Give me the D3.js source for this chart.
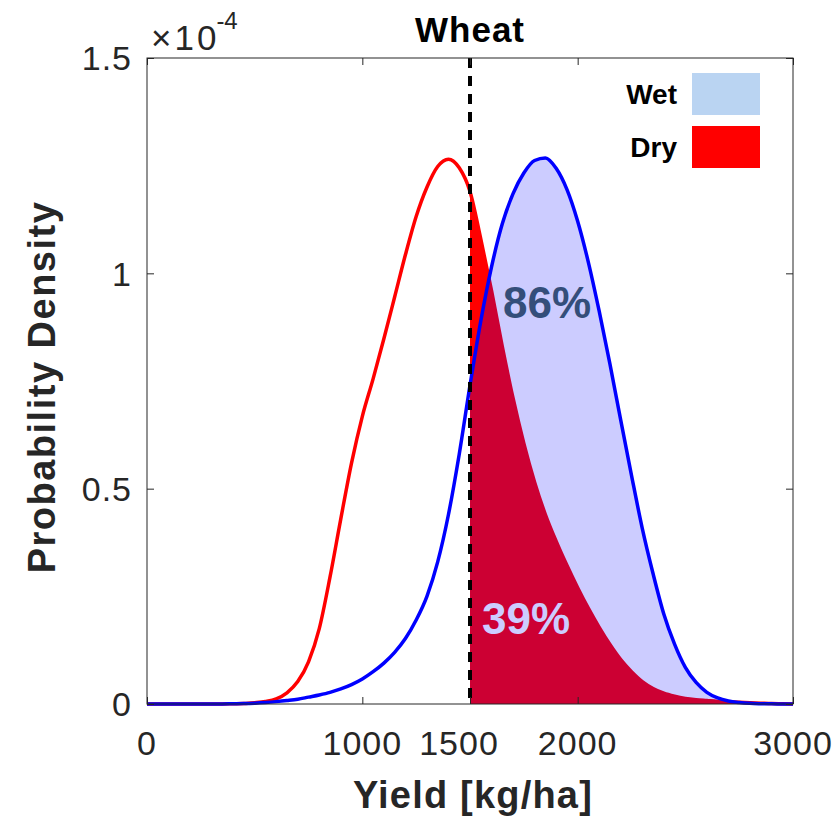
<!DOCTYPE html>
<html>
<head>
<meta charset="utf-8">
<script src="https://cdn.jsdelivr.net/npm/d3@7"></script>
<style>
  body { margin: 0; background: #fff; }
  text { font-family: "Liberation Sans", Arial, Helvetica, sans-serif; }
</style>
</head>
<body>
<div id="chart"></div>
<script>
// yield grid (kg/ha)
var yieldKgHa = [0, 50, 100, 150, 200, 250, 300, 350, 400, 450, 500, 550, 600, 650, 700, 750,
  800, 850, 900, 950, 1000, 1050, 1100, 1150, 1200, 1250, 1300, 1350, 1400, 1450, 1500,
  1550, 1600, 1650, 1700, 1750, 1800, 1850, 1900, 1950, 2000, 2050, 2100, 2150, 2200,
  2250, 2300, 2350, 2400, 2450, 2500, 2550, 2600, 2650, 2700, 2750, 2800, 2850, 2900,
  2950, 3000];

// probability density, in units of 1e-4
var dryDensity = [0, 0, 0, 0, 0, 0, 0, 0, 0.0005, 0.001, 0.003, 0.006, 0.012, 0.026, 0.052, 0.098,
  0.175, 0.295, 0.43, 0.56, 0.668, 0.755, 0.848, 0.945, 1.043, 1.132, 1.20, 1.248, 1.265, 1.245, 1.19,
  1.08, 0.96, 0.83, 0.71, 0.605, 0.515, 0.44, 0.378, 0.322, 0.27, 0.222, 0.178, 0.138, 0.103,
  0.075, 0.052, 0.036, 0.025, 0.018, 0.013, 0.01, 0.008, 0.006, 0.005, 0.004, 0.003, 0.002, 0.001,
  0.0005, 0];

var wetDensity = [0, 0, 0, 0, 0, 0, 0, 0, 0.0005, 0.001, 0.002, 0.0035, 0.0055, 0.008, 0.011, 0.016,
  0.021, 0.027, 0.035, 0.045, 0.058, 0.075, 0.095, 0.12, 0.152, 0.195, 0.25, 0.33, 0.44, 0.58, 0.74,
  0.889, 1.015, 1.115, 1.185, 1.233, 1.262, 1.268, 1.244, 1.195, 1.121, 1.025, 0.912, 0.789, 0.659,
  0.531, 0.408, 0.303, 0.209, 0.139, 0.085, 0.05, 0.027, 0.014, 0.007, 0.0035, 0.0015, 0.0007, 0.0003,
  0.0001, 0];

var threshold = 1500;
var xTicks = [0, 1000, 1500, 2000, 3000];
var yTicks = [0, 0.5, 1, 1.5];
var labels = [
  { text: "86%", x: 1653, y: 0.896, color: "#344e7a" },
  { text: "39%", x: 1556, y: 0.163, color: "#ccccff" }
];
var legendItems = [
  { name: "Wet", color: "#bad4f2" },
  { name: "Dry", color: "#ff0000" }
];

var width = 835, height = 819;
var margin = { top: 58, right: 42, bottom: 115, left: 147 };
var w = width - margin.left - margin.right;
var h = height - margin.top - margin.bottom;
var axisColor = "#262626";

var svg = d3.select("#chart").append("svg")
    .attr("width", width)
    .attr("height", height);
var g = svg.append("g").attr("transform", "translate(" + margin.left + "," + margin.top + ")");

var x = d3.scaleLinear().domain([0, 3000]).range([0, w]);
var y = d3.scaleLinear().domain([0, 1.5]).range([h, 0]);

var dry = yieldKgHa.map(function(d, i) { return { x: d, y: dryDensity[i] }; });
var wet = yieldKgHa.map(function(d, i) { return { x: d, y: wetDensity[i] }; });
var dryRight = dry.filter(function(d) { return d.x >= threshold; });
var wetRight = wet.filter(function(d) { return d.x >= threshold; });

var area = d3.area().curve(d3.curveMonotoneX)
    .x(function(d) { return x(d.x); })
    .y0(y(0))
    .y1(function(d) { return y(d.y); });
var line = d3.line().curve(d3.curveMonotoneX)
    .x(function(d) { return x(d.x); })
    .y(function(d) { return y(d.y); });

// fills right of threshold
g.append("path").attr("d", area(dryRight)).attr("fill", "#ff0000");
g.append("path").attr("d", line(dry)).attr("fill", "none")
    .attr("stroke", "#ff0000").attr("stroke-width", 3.5);
g.append("path").attr("d", area(wetRight)).attr("fill", "#0000ff").attr("fill-opacity", 0.2);
g.append("path").attr("d", line(wet)).attr("fill", "none")
    .attr("stroke", "#0000ff").attr("stroke-width", 3.5);

// threshold line
g.append("line")
    .attr("x1", x(threshold)).attr("x2", x(threshold))
    .attr("y1", 0).attr("y2", h)
    .attr("stroke", "#000").attr("stroke-width", 4)
    .attr("stroke-dasharray", "10,8");

// percent labels
g.selectAll(".pct").data(labels).enter().append("text")
    .attr("class", "pct")
    .attr("x", function(d) { return x(d.x); })
    .attr("y", function(d) { return y(d.y); })
    .attr("fill", function(d) { return d.color; })
    .attr("font-size", 44).attr("font-weight", "bold")
    .text(function(d) { return d.text; });

// axes box with inward ticks on all sides
var tickLen = 7;
function styleAxis(sel) {
  sel.select(".domain").remove();
  sel.selectAll(".tick line").attr("stroke", axisColor);
  sel.selectAll(".tick text").remove();
}
g.append("g").attr("transform", "translate(0," + h + ")")
    .call(d3.axisBottom(x).tickValues(xTicks).tickSize(-tickLen)).call(styleAxis);
g.append("g")
    .call(d3.axisTop(x).tickValues(xTicks).tickSize(-tickLen)).call(styleAxis);
g.append("g")
    .call(d3.axisLeft(y).tickValues(yTicks).tickSize(-tickLen)).call(styleAxis);
g.append("g").attr("transform", "translate(" + w + ",0)")
    .call(d3.axisRight(y).tickValues(yTicks).tickSize(-tickLen)).call(styleAxis);
g.append("rect").attr("width", w).attr("height", h)
    .attr("fill", "none").attr("stroke", axisColor).attr("stroke-width", 1);

// tick labels
g.selectAll(".xl").data(xTicks).enter().append("text")
    .attr("x", function(d) { return x(d); })
    .attr("dx", function(d) { return d === 1500 ? -11 : 0; })
    .attr("y", h + 51)
    .attr("text-anchor", "middle")
    .attr("font-size", 34).attr("letter-spacing", 1)
    .attr("fill", axisColor)
    .text(function(d) { return d; });
g.selectAll(".yl").data(yTicks).enter().append("text")
    .attr("x", -15)
    .attr("y", function(d) { return y(d); })
    .attr("dy", "0.36em")
    .attr("text-anchor", "end")
    .attr("font-size", 34).attr("letter-spacing", 1)
    .attr("fill", axisColor)
    .text(function(d) { return d; });

// exponent
var expo = g.append("text").attr("x", 4).attr("y", -8)
    .attr("font-size", 35).attr("fill", axisColor);
expo.append("tspan").attr("letter-spacing", 3).text("\u00d710");
expo.append("tspan").attr("font-size", 24).attr("dy", -21).attr("dx", -3).text("-4");

// title and axis labels
svg.append("text").attr("x", margin.left + w / 2).attr("y", 42)
    .attr("text-anchor", "middle").attr("font-size", 35).attr("font-weight", "bold")
    .attr("letter-spacing", 1).attr("fill", "#000").text("Wheat");
svg.append("text").attr("x", margin.left + w / 2 + 3).attr("y", 808)
    .attr("text-anchor", "middle").attr("font-size", 38).attr("font-weight", "bold")
    .attr("letter-spacing", 1.2).attr("fill", axisColor).text("Yield [kg/ha]");
svg.append("text")
    .attr("transform", "translate(55," + (margin.top + h / 2 + 6) + ") rotate(-90)")
    .attr("text-anchor", "middle").attr("font-size", 38).attr("font-weight", "bold")
    .attr("letter-spacing", 1.5).attr("fill", axisColor).text("Probability Density");

// legend
var leg = g.selectAll(".leg").data(legendItems).enter().append("g")
    .attr("transform", function(d, i) { return "translate(0," + (15 + i * 53) + ")"; });
leg.append("rect").attr("x", w - 101).attr("width", 68).attr("height", 42)
    .attr("fill", function(d) { return d.color; });
leg.append("text").attr("x", w - 116).attr("y", 21).attr("dy", "0.35em")
    .attr("text-anchor", "end").attr("font-size", 28).attr("font-weight", "bold")
    .attr("fill", "#000").text(function(d) { return d.name; });
</script>
</body>
</html>
